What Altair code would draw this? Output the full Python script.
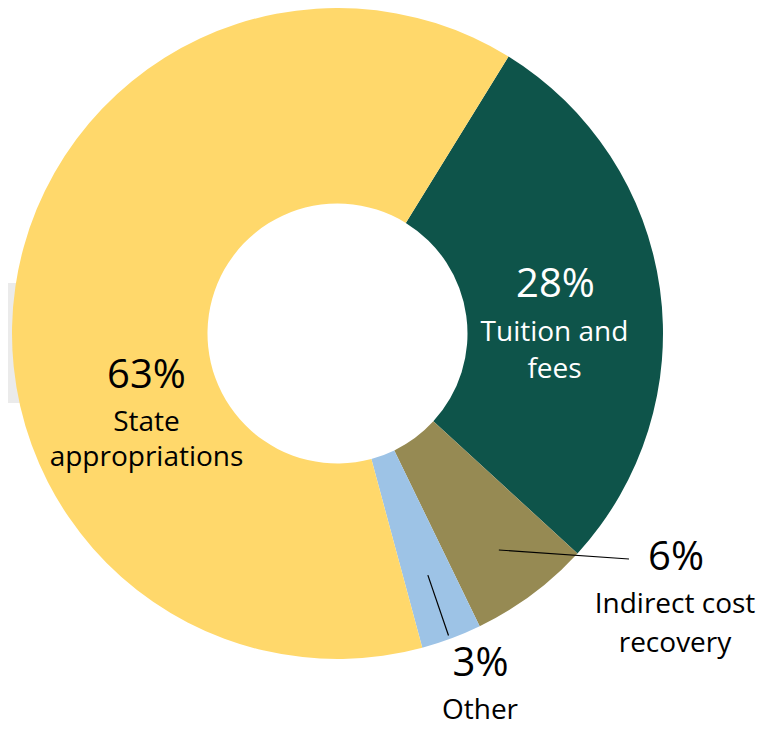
import math
import altair as alt
import pandas as pd

# ---- data ----
categories = ["Tuition and fees", "Indirect cost recovery", "Other", "State appropriations"]
values = [28, 6, 3, 63]
label_names = ["Tuition and\nfees", "Indirect cost\nrecovery", "Other", "State\nappropriations"]

# ---- styles / layout ----
colors = ["#0E544A", "#968A53", "#9DC3E6", "#FFD86B"]
text_colors = ["white", "black", "black", "black"]
FONT = "Open Sans"
CX, CY = 329.5, 325.5          # donut centre (px)
R_OUT, R_IN = 325.5, 130
START_DEG = 31.7                # where the first slice begins (clockwise from 12 o'clock)
# label anchors relative to the centre: (pct dx, pct dy, name dx, name dy, line height)
layout = {
    "Tuition and fees": (218, -36.5, 217, 7.5, 37),
    "Indirect cost recovery": (338.5, 236.5, 337.5, 279.5, 39),
    "Other": (143, 342.5, 142.5, 385, 36),
    "State appropriations": (-191, 54.5, -191, 97.5, 35),
}
# leader lines: radius of the start point on the slice, end point relative to centre
leaders = {
    "Indirect cost recovery": (270, 291.5, 225.5),
    "Other": (258, 111, 302),
}

df = pd.DataFrame({
    "category": categories,
    "value": values,
    "order": list(range(len(categories))),
})

start = math.radians(START_DEG)
theta_scale = alt.Scale(range=[start, start + 2 * math.pi])
color_scale = alt.Scale(domain=categories, range=colors)

arc = alt.Chart(df).mark_arc(innerRadius=R_IN, outerRadius=R_OUT).encode(
    theta=alt.Theta("value:Q", stack=True, scale=theta_scale),
    order=alt.Order("order:Q"),
    color=alt.Color("category:N", scale=color_scale, legend=None),
    x=alt.value(CX),
    y=alt.value(CY),
)

# grey band behind the left edge
band = alt.Chart(pd.DataFrame({"a": [0]})).mark_rect(color="#EBEBEB").encode(
    x=alt.value(0), x2=alt.value(24), y=alt.value(275), y2=alt.value(395)
)

# leader lines, starting at each slice's mid-angle
total = sum(values)
cum = 0.0
rows = []
for cat, v in zip(categories, values):
    mid = START_DEG + 360.0 * (cum + v / 2) / total
    cum += v
    if cat in leaders:
        r, ex, ey = leaders[cat]
        a = math.radians(mid)
        rows.append({
            "x": CX + r * math.sin(a), "y": CY - r * math.cos(a),
            "x2": CX + ex, "y2": CY + ey,
        })
lines = alt.Chart(pd.DataFrame(rows)).mark_rule(color="black", strokeWidth=1.2).encode(
    x=alt.X("x:Q", scale=None), y=alt.Y("y:Q", scale=None),
    x2="x2:Q", y2="y2:Q",
)

texts = []
for cat, v, name, tc in zip(categories, values, label_names, text_colors):
    pdx, pdy, ndx, ndy, lh = layout[cat]
    d = pd.DataFrame({"pct": [f"{v}%"], "name": [name]})
    texts.append(
        alt.Chart(d).mark_text(
            font=FONT, fontSize=40, color=tc, align="center", baseline="alphabetic"
        ).encode(text="pct:N", x=alt.value(CX + pdx), y=alt.value(CY + pdy))
    )
    texts.append(
        alt.Chart(d).mark_text(
            font=FONT, fontSize=28, color=tc, align="center", baseline="alphabetic",
            lineBreak="\n", lineHeight=lh,
        ).encode(text="name:N", x=alt.value(CX + ndx), y=alt.value(CY + ndy))
    )

chart = alt.layer(band, arc, lines, *texts).properties(
    width=760, height=717, padding=0,
    autosize=alt.AutoSizeParams(type="none"),
    background="white",
).configure_view(stroke=None)

chart.save("out.html", embed_options={"renderer": "svg", "actions": False})
